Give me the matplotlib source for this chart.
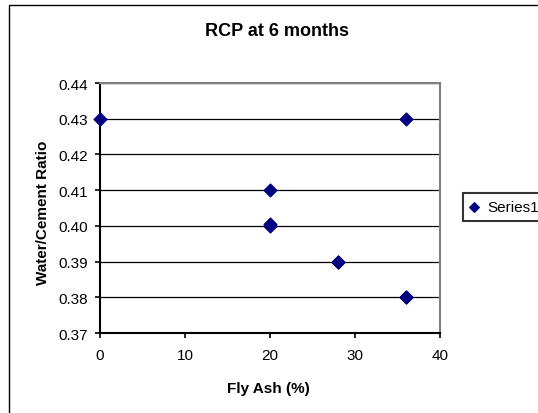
import matplotlib
matplotlib.use('agg')
import matplotlib.pyplot as plt
from matplotlib.patches import Rectangle

plt.rcParams['font.family'] = ['Liberation Sans', 'DejaVu Sans']

fly_ash = [0, 36, 20, 20, 20, 28, 28, 36, 36]
wc_ratio = [0.43, 0.43, 0.41, 0.40, 0.4005, 0.39, 0.39, 0.38, 0.38]
y_ticks = [0.37, 0.38, 0.39, 0.40, 0.41, 0.42, 0.43, 0.44]
x_ticks = [0, 10, 20, 30, 40]

W, H = 538, 414
fig = plt.figure(figsize=(W / 100, H / 100), dpi=100)

# chart frame, running off the right and bottom edges
fig.patches.append(Rectangle((9 / W, -0.05), 1.2, 1 - 6 / H + 0.05,
                             transform=fig.transFigure, fill=False,
                             edgecolor='black', linewidth=1.0))

# plot area in pixels: x 100..440, y 84..334
ax = fig.add_axes([100 / W, 1 - 334 / H, 340 / W, 250 / H])
ax.set_xlim(0, 40)
ax.set_ylim(0.37, 0.44)
ax.set_xticks(x_ticks)
ax.set_yticks(y_ticks)
ax.set_yticklabels(['%.2f' % v for v in y_ticks])
ax.yaxis.grid(True, color='black', linewidth=0.9)
ax.set_axisbelow(True)

for side in ('left', 'bottom'):
    ax.spines[side].set_color('black')
    ax.spines[side].set_linewidth(1.5)
for side in ('top', 'right'):
    ax.spines[side].set_color('#808080')
    ax.spines[side].set_linewidth(1.5)

ax.tick_params(direction='out', length=3.6, width=1.2, labelsize=11)
ax.tick_params(axis='y', pad=5)
ax.tick_params(axis='x', pad=7)

ax.scatter(fly_ash, wc_ratio, marker='D', s=42, color='#000080',
           zorder=3, clip_on=False, label='Series1')

ax.set_xlabel('Fly Ash (%)', fontsize=11, fontweight='bold')
ax.set_ylabel('Water/Cement Ratio', fontsize=11, fontweight='bold')
ax.xaxis.set_label_coords(0.494, -0.222)
ax.xaxis.label.set_va('center')
ax.yaxis.set_label_coords(-0.168, 0.484)
ax.yaxis.label.set_va('center')

fig.text(277 / W, 1 - 32 / H, 'RCP at 6 months', ha='center', va='center',
         fontsize=13, fontweight='bold')

leg = fig.legend(loc='center left', bbox_to_anchor=(463 / W, 1 - 208 / H),
                 frameon=True, fancybox=False, handletextpad=0.58,
                 borderpad=0.44, fontsize=11, markerscale=0.75,
                 handlelength=0.55, borderaxespad=0)
leg.get_frame().set_edgecolor('black')
leg.get_frame().set_linewidth(1.5)

fig.savefig('out.png', dpi=100)
